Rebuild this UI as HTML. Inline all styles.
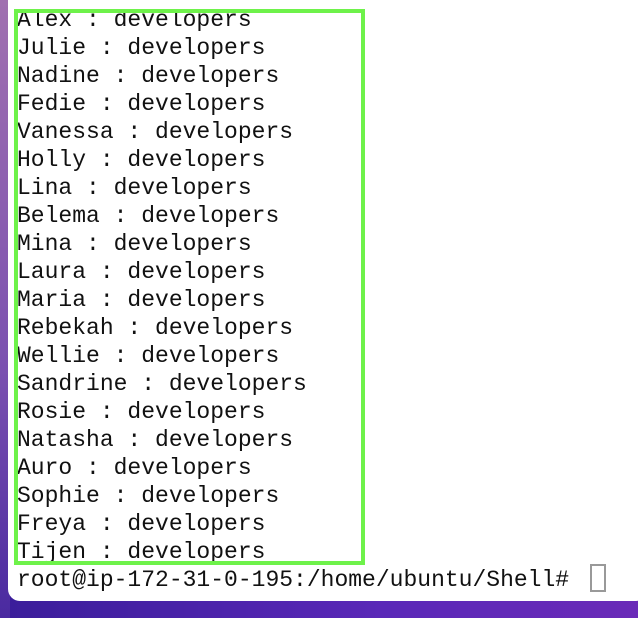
<!DOCTYPE html>
<html><head><style>
html,body{margin:0;padding:0;width:638px;height:618px;overflow:hidden;background:linear-gradient(90deg,#3a1d9a,#5a28b8 60%,#6a2ab8);}
.side{position:absolute;left:0;top:0;width:10px;height:618px;background:linear-gradient(180deg,#a070b0,#7a50b0 60%,#4a2aa0);}
.win{position:absolute;left:8px;top:-20px;width:640px;height:621px;background:#fff;border-radius:12px;}
.txt{position:absolute;left:17px;top:6px;font-family:"Liberation Mono",monospace;font-size:23px;line-height:28px;color:#111;white-space:pre;}
.box{position:absolute;left:14px;top:9px;width:343px;height:548px;border:4px solid #6ef24a;}
.cur{position:absolute;left:590px;top:564px;width:12px;height:24px;border:2px solid #999;}
</style></head><body>
<div class="side"></div>
<div class="win"></div>
<div class="txt">Alex : developers
Julie : developers
Nadine : developers
Fedie : developers
Vanessa : developers
Holly : developers
Lina : developers
Belema : developers
Mina : developers
Laura : developers
Maria : developers
Rebekah : developers
Wellie : developers
Sandrine : developers
Rosie : developers
Natasha : developers
Auro : developers
Sophie : developers
Freya : developers
Tijen : developers
root@ip-172-31-0-195:/home/ubuntu/Shell# </div>
<div class="box"></div>
<div class="cur"></div>
</body></html>
